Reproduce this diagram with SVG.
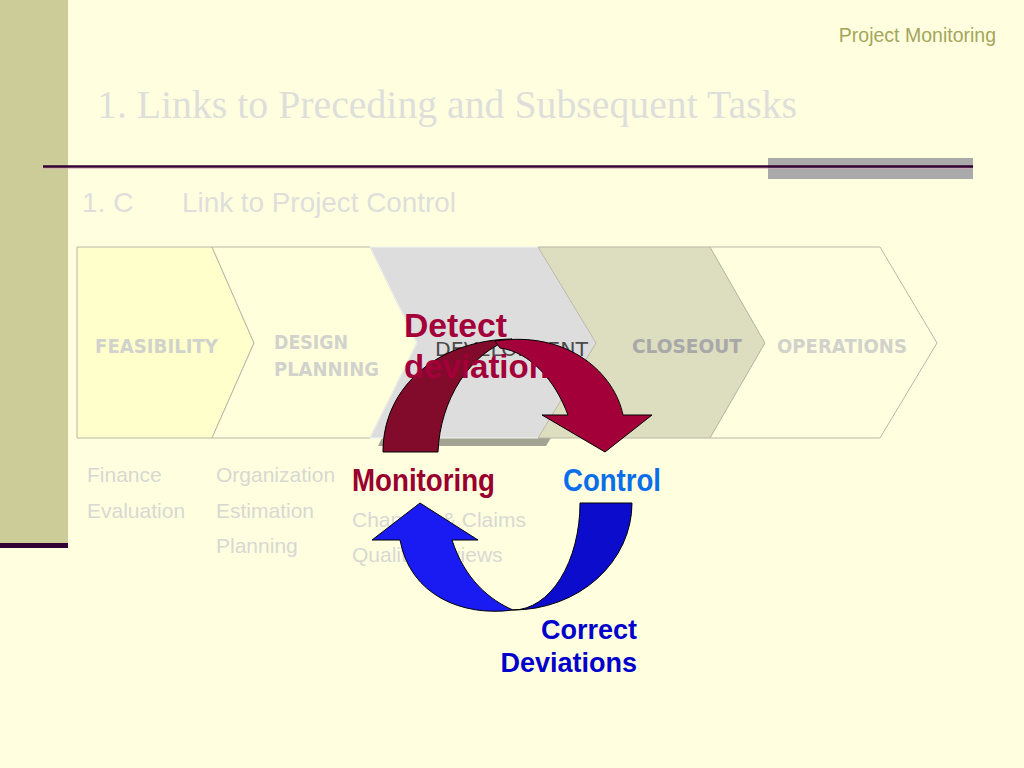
<svg xmlns="http://www.w3.org/2000/svg" width="1024" height="768" viewBox="0 0 1024 768">
  <style>
    .chev { stroke: #B8B8A8; stroke-width: 1; }
    .phase { font-family: "DejaVu Sans", Verdana, sans-serif; font-weight: bold; font-size: 19px; fill: #D2D2CC; }
    .task { font-family: "Liberation Sans", Arial, sans-serif; font-size: 21px; fill: #D8D8D2; }
    .big { font-family: "Liberation Sans", Arial, sans-serif; font-weight: bold; }
    .arrow { stroke: #000000; stroke-width: 1; stroke-linejoin: round; }
  </style>
  <rect x="0" y="0" width="1024" height="768" fill="#FFFFE0"/>

  <g id="frame">
    <rect x="0" y="0" width="68" height="543" fill="#CCCC99"/>
    <rect x="0" y="543" width="68" height="5" fill="#330033"/>
    <rect x="768" y="158" width="205" height="21" fill="#AAAAAA"/>
    <line x1="43" y1="166.5" x2="973" y2="166.5" stroke="#330033" stroke-width="2.5"/>
    <line x1="43" y1="168.5" x2="973" y2="168.5" stroke="#D8A8B8" stroke-width="1" opacity="0.6"/>
  </g>

  <g id="header">
    <text x="996" y="42" text-anchor="end" font-family="Liberation Sans, Arial, sans-serif" font-size="19.5" fill="#A5A55A">Project Monitoring</text>
    <text x="97" y="118" font-family="Liberation Serif, Times New Roman, serif" font-size="39.5" fill="#DEDEDA" textLength="700" lengthAdjust="spacingAndGlyphs">1. Links to Preceding and Subsequent Tasks</text>
    <text x="82" y="212" font-family="Liberation Sans, Arial, sans-serif" font-size="28" fill="#DEDEDA">1. C</text>
    <text x="182" y="212" font-family="Liberation Sans, Arial, sans-serif" font-size="28" fill="#DEDEDA" textLength="274" lengthAdjust="spacingAndGlyphs">Link to Project Control</text>
  </g>

  <g id="feasibility">
    <path class="chev" d="M77,247 L212,247 L254,343 L212,438 L77,438 Z" fill="#FFFFCC"/>
    <text class="phase" x="95" y="353" textLength="123" lengthAdjust="spacingAndGlyphs">FEASIBILITY</text>
  </g>
  <g id="design-planning">
    <path class="chev" d="M212,247 L370,247 L417,343 L370,438 L212,438 L254,343 Z" fill="#FFFFDC"/>
    <text class="phase" x="274" y="349" textLength="74" lengthAdjust="spacingAndGlyphs">DESIGN</text>
    <text class="phase" x="274" y="376" textLength="105" lengthAdjust="spacingAndGlyphs">PLANNING</text>
  </g>
  <g id="development">
    <path d="M378,255 L546,255 L604,351 L546,446 L378,446 L425,351 Z" fill="#A3A392"/>
    <path d="M370,247 L538,247 L596,343 L538,438 L370,438 L417,343 Z" fill="#DDDDDD" stroke="#F4F4F0" stroke-width="1"/>
    <text x="435" y="356" font-family="DejaVu Sans, Verdana, sans-serif" font-size="19" fill="#4A4A4A" textLength="153" lengthAdjust="spacingAndGlyphs">DEVELOPMENT</text>
  </g>
  <g id="closeout">
    <path class="chev" d="M538,247 L710,247 L765,343 L710,438 L538,438 L596,343 Z" fill="#DDDDC0"/>
    <text class="phase" x="632" y="353" textLength="110" lengthAdjust="spacingAndGlyphs" style="fill:#A8A8A8">CLOSEOUT</text>
  </g>
  <g id="operations">
    <path class="chev" d="M710,247 L880,247 L937,343 L880,438 L710,438 L765,343 Z" fill="#FFFFE0"/>
    <text class="phase" x="777" y="353" textLength="130" lengthAdjust="spacingAndGlyphs">OPERATIONS</text>
  </g>

  <g id="task-lists">
    <text class="task" x="87" y="482">Finance</text>
    <text class="task" x="87" y="518">Evaluation</text>
    <text class="task" x="216" y="482">Organization</text>
    <text class="task" x="216" y="518">Estimation</text>
    <text class="task" x="216" y="553">Planning</text>
    <text class="task" x="352" y="527">Changes &amp; Claims</text>
    <text class="task" x="352" y="562">Quality Reviews</text>
  </g>

  <g id="connectors">
    <path id="detect-back" class="arrow" fill="#820A2A" d="M383,452 C383,385 440,340 512,339 C470,352 440,400 438,452 Z"/>
    <path id="detect-front" class="arrow" fill="#A3003A" d="M495,341 C570,330 615,375 623,415 L652,415 L605,452 L542,415 L568,415 C555,380 530,352 500,348 Z"/>
    <text class="big" x="404" y="337" font-size="33" fill="#A3003A" textLength="103" lengthAdjust="spacingAndGlyphs">Detect</text>
    <text class="big" x="404" y="378" font-size="33" fill="#A3003A">deviations</text>

    <path id="correct-back" class="arrow" fill="#0C0CCC" d="M580,503 L632,503 A119,107 0 0 1 513,610 A67,107 0 0 0 580,503 Z"/>
    <path id="correct-front" class="arrow" fill="#1A1AF2" d="M513,610 C462,617 410,595 400,540 L372,540 L420,503 L478,540 L452,540 C465,580 490,600 513,610 Z"/>
  </g>

  <g id="labels">
    <text class="big" x="352" y="491" font-size="31" fill="#99002E" textLength="143" lengthAdjust="spacingAndGlyphs">Monitoring</text>
    <text class="big" x="563" y="491" font-size="31" fill="#0A6EEA" textLength="98" lengthAdjust="spacingAndGlyphs">Control</text>
    <text class="big" x="637" y="639" font-size="27" fill="#0000CC" text-anchor="end">Correct</text>
    <text class="big" x="637" y="672" font-size="27" fill="#0000CC" text-anchor="end">Deviations</text>
  </g>
</svg>
